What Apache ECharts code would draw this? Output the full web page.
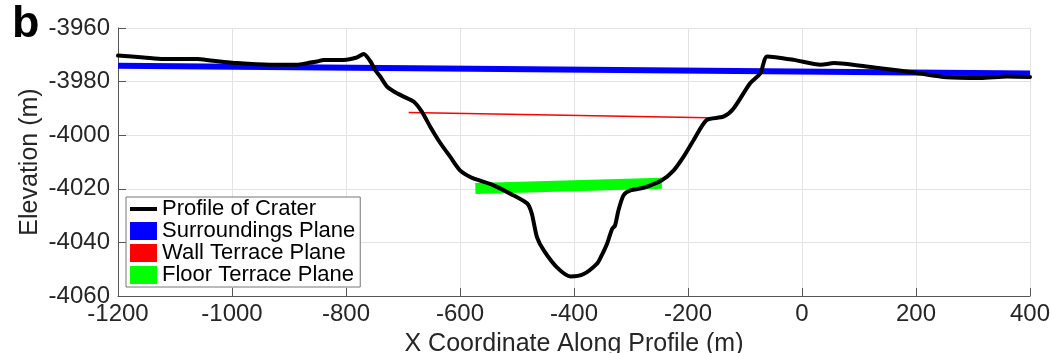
<!DOCTYPE html>
<html>
<head>
<meta charset="utf-8">
<title>Crater profile</title>
<script src="https://cdn.jsdelivr.net/npm/echarts@6/dist/echarts.min.js"></script>
<style>
  html, body { margin: 0; padding: 0; background: #fff; }
  #chart { width: 1050px; height: 353px; }
</style>
</head>
<body>
<div id="chart"></div>
<script>
// Elevation profile across the crater: [x along profile (m), elevation (m)]
const profileOfCrater = [
  [-1200, -3970.3], [-1155, -3971.0], [-1120, -3971.6], [-1061, -3971.6], [-1038, -3972.1],
  [-991, -3973.1], [-933, -3973.7], [-886, -3973.7], [-868, -3973.1], [-851, -3972.5],
  [-839, -3971.9], [-804, -3971.9], [-781, -3971.0], [-769, -3969.7], [-757, -3972.5],
  [-749, -3975.6], [-740, -3978.1], [-728, -3981.9], [-716, -3983.7], [-699, -3985.6],
  [-681, -3987.5], [-667, -3991.2], [-652, -3996.9], [-634, -4003.1], [-617, -4008.1],
  [-600, -4013.1], [-582, -4015.6], [-567, -4016.8], [-541, -4018.7], [-512, -4021.8],
  [-482, -4025.5], [-474, -4029.3], [-465, -4038.0], [-453, -4043.0], [-430, -4049.3],
  [-406, -4052.7], [-383, -4051.8], [-360, -4048.0], [-353, -4045.5], [-342, -4040.5],
  [-333, -4034.9], [-328, -4033.7], [-322, -4028.0], [-313, -4022.4], [-301, -4020.6],
  [-278, -4019.6], [-246, -4016.8], [-225, -4013.1], [-208, -4008.1], [-190, -4001.8],
  [-167, -3994.3], [-138, -3993.1], [-120, -3990.0], [-91, -3980.6], [-73, -3976.9],
  [-61, -3970.6], [-14, -3971.9], [33, -3973.7], [56, -3973.1], [103, -3974.1],
  [137, -3975.0], [196, -3976.6], [254, -3978.4], [313, -3978.7], [360, -3978.1],
  [400, -3978.3]
];

// Fitted planes, drawn as their traces along the profile
const surroundingsPlane = [[-1200, -3974.1], [400, -3977.0]];
const wallTerracePlane = [[-690, -3991.5], [-140, -3993.6]];
const floorTerracePlane = [[-573, -4019.9], [-246, -4017.9]];

const seriesNames = ['Profile of Crater', 'Surroundings Plane', 'Wall Terrace Plane', 'Floor Terrace Plane'];

// Axis ranges and tick spacing
const xMin = -1200, xMax = 400, xStep = 200;
const yMin = -4060, yMax = -3960, yStep = 20;

const FONT = '"Liberation Sans", Arial, Helvetica, sans-serif';
const TEXT = '#262626';

// Legend key for the profile: a short thick stroke centred in a 27x18 box
const LINE_KEY = 'path://M0,0 M27,18 M0,7 L27,7 L27,11 L0,11 Z';

const chart = echarts.init(document.getElementById('chart'), null, { renderer: 'canvas' });

chart.setOption({
  animation: false,
  backgroundColor: '#fff',
  textStyle: { fontFamily: FONT },
  graphic: [{
    type: 'text',
    left: 12,
    top: 2,
    style: { text: 'b', font: 'bold 45px ' + FONT, fill: '#000' }
  }],
  grid: {
    left: 118, right: 20, top: 28, bottom: 57,
    containLabel: false,
    outerBoundsMode: 'none'
  },
  legend: {
    orient: 'vertical',
    left: 126,
    top: 197,
    padding: [1, 5, 1, 4],
    itemGap: 0,
    itemWidth: 27,
    itemHeight: 18,
    itemTextGap: 2,
    selectedMode: false,
    backgroundColor: '#fff',
    borderColor: '#777',
    borderWidth: 1,
    borderRadius: 0,
    textStyle: { fontSize: 22, color: '#000', fontFamily: FONT, lineHeight: 22 },
    data: [
      { name: seriesNames[0], icon: LINE_KEY, itemStyle: { color: '#000' } },
      { name: seriesNames[1], icon: 'rect' },
      { name: seriesNames[2], icon: 'rect' },
      { name: seriesNames[3], icon: 'rect' }
    ]
  },
  xAxis: {
    type: 'value',
    min: xMin, max: xMax, interval: xStep,
    name: 'X Coordinate Along Profile (m)',
    nameLocation: 'middle',
    nameGap: 36,
    nameMoveOverlap: false,
    nameTextStyle: { fontSize: 25, color: TEXT, fontFamily: FONT },
    axisLine: { show: true, onZero: false, lineStyle: { color: '#555', width: 1 } },
    axisTick: { show: true, inside: true, length: 8, lineStyle: { color: '#555' } },
    axisLabel: { fontSize: 24, color: TEXT, margin: 6, fontFamily: FONT, formatter: v => String(v) },
    splitLine: { show: true, lineStyle: { color: '#e3e3e3', width: 1 } }
  },
  yAxis: {
    type: 'value',
    min: yMin, max: yMax, interval: yStep,
    name: 'Elevation (m)',
    nameLocation: 'middle',
    nameGap: 75,
    nameMoveOverlap: false,
    nameRotate: 90,
    nameTextStyle: { fontSize: 25, color: TEXT, fontFamily: FONT },
    axisLine: { show: true, onZero: false, lineStyle: { color: '#555', width: 1 } },
    axisTick: { show: true, inside: true, length: 8, lineStyle: { color: '#555' } },
    axisLabel: { fontSize: 24, color: TEXT, margin: 8, fontFamily: FONT, formatter: v => String(v) },
    splitLine: { show: true, lineStyle: { color: '#e3e3e3', width: 1 } }
  },
  series: [
    {
      name: seriesNames[1], type: 'line', data: surroundingsPlane,
      symbol: 'none', color: '#0000ff', z: 2,
      lineStyle: { color: '#0000ff', width: 6, cap: 'butt' },
      emphasis: { disabled: true }
    },
    {
      name: seriesNames[2], type: 'line', data: wallTerracePlane,
      symbol: 'none', color: '#ff0000', z: 2,
      lineStyle: { color: '#ff0000', width: 1.5, cap: 'butt' },
      emphasis: { disabled: true }
    },
    {
      name: seriesNames[3], type: 'line', data: floorTerracePlane,
      symbol: 'none', color: '#00ff00', z: 2,
      lineStyle: { color: '#00ff00', width: 11, cap: 'butt' },
      emphasis: { disabled: true }
    },
    {
      name: seriesNames[0], type: 'line', data: profileOfCrater,
      symbol: 'none', color: '#000', z: 3, smooth: 0.25,
      lineStyle: { color: '#000', width: 4, join: 'round', cap: 'round' },
      emphasis: { disabled: true }
    }
  ]
});
</script>
</body>
</html>
